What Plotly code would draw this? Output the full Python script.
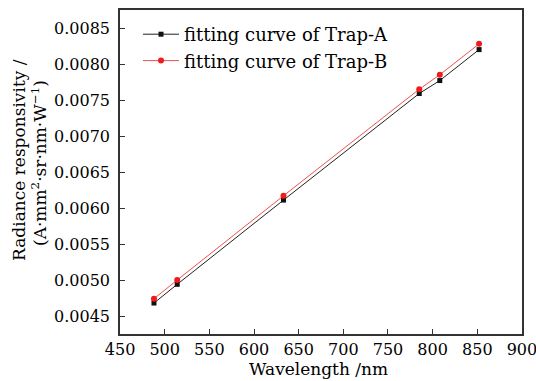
import plotly.graph_objects as go

wavelength = [488, 514, 633, 785, 808, 852]
trap_a = [0.00469, 0.00495, 0.00612, 0.00760, 0.00778, 0.00821]
trap_b = [0.00475, 0.00501, 0.00618, 0.00766, 0.00786, 0.00829]
x_ticks = [450, 500, 550, 600, 650, 700, 750, 800, 850, 900]
y_ticks = [0.0045, 0.0050, 0.0055, 0.0060, 0.0065, 0.0070, 0.0075, 0.0080, 0.0085]

FONT = "DejaVu Serif"
TXT = "#000000"
L, R, T, B = 120, 14, 10, 47
W, H = 536, 381
PW, PH = W - L - R, H - T - B

def px(xp):
    return (xp - L) / PW

def py(yp):
    return (H - B - yp) / PH

fig = go.Figure()
fig.add_trace(go.Scatter(
    x=wavelength, y=trap_a, mode="lines+markers", name="fitting curve of Trap-A",
    line=dict(color="#222222", width=1),
    marker=dict(symbol="square", size=5, color="#111111"),
))
fig.add_trace(go.Scatter(
    x=wavelength, y=trap_b, mode="lines+markers", name="fitting curve of Trap-B",
    line=dict(color="#f05050", width=1),
    marker=dict(symbol="circle", size=6, color="#ee1c1c"),
))

axis_common = dict(
    showline=True, linecolor="#333333", linewidth=1.5, mirror=True,
    ticks="inside", ticklen=5, tickcolor="#333333", tickwidth=1.2,
    showgrid=False, zeroline=False, automargin=False,
    ticklabeloverflow="allow",
    tickfont=dict(family=FONT, size=16, color=TXT),
)

fig.update_layout(
    width=W, height=H,
    margin=dict(l=L, r=R, t=T, b=B),
    paper_bgcolor="white", plot_bgcolor="white",
    font=dict(family=FONT, color=TXT),
    showlegend=True,
    legend=dict(
        x=px(138), y=py(16), xanchor="left", yanchor="top",
        bgcolor="rgba(0,0,0,0)", font=dict(family=FONT, size=18, color=TXT),
        itemwidth=36, tracegroupgap=0,
    ),
    xaxis=dict(
        range=[449.95, 900.05], tickvals=x_ticks, ticktext=[str(v) for v in x_ticks],
        **axis_common,
    ),
    yaxis=dict(
        range=[0.00426, 0.00876], tickvals=y_ticks,
        ticktext=[f"{v:.4f}" for v in y_ticks],
        ticklabelstandoff=5,
        **axis_common,
    ),
)

fig.add_annotation(
    text="Wavelength /nm", xref="paper", yref="paper",
    x=px(318), y=py(369), xanchor="center", yanchor="middle",
    showarrow=False, font=dict(family=FONT, size=17, color=TXT),
)
fig.add_annotation(
    text="Radiance responsivity /", xref="paper", yref="paper",
    x=px(19), y=py(160), xanchor="center", yanchor="middle", textangle=-90,
    showarrow=False, font=dict(family=FONT, size=17, color=TXT),
)
fig.add_annotation(
    text="(A·mm<sup>2</sup>·sr·nm·W<sup>−1</sup>)", xref="paper", yref="paper",
    x=px(39), y=py(163), xanchor="center", yanchor="middle", textangle=-90,
    showarrow=False, font=dict(family=FONT, size=17, color=TXT),
)

fig.write_html(
    "out.html",
    config={"displayModeBar": False},
    post_script="document.body.style.margin='0';document.body.style.overflow='hidden';",
)
